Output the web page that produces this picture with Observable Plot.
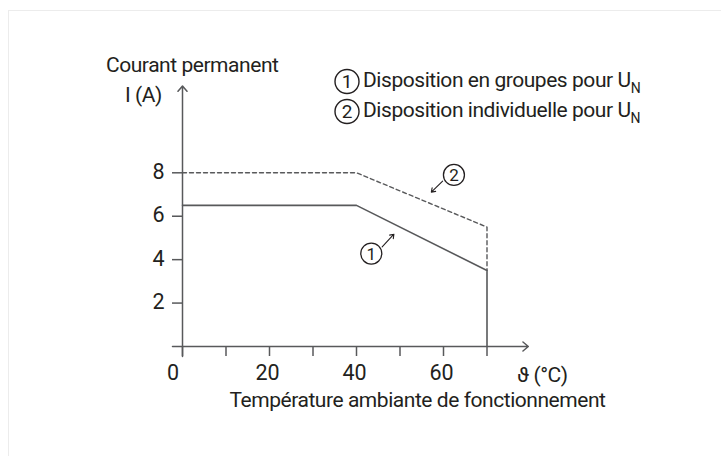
<!DOCTYPE html>
<html>
<head>
<meta charset="utf-8">
<script src="https://cdn.jsdelivr.net/npm/d3@7"></script>
<script src="https://cdn.jsdelivr.net/npm/@observablehq/plot@0.6"></script>
<style>
  html, body { margin: 0; padding: 0; background: #fff; }
  #wrap { position: relative; width: 721px; height: 456px; overflow: hidden; }
  #frame { position: absolute; left: 8px; top: 10px; right: -20px; bottom: -20px;
           border-top: 1px solid #ececec; border-left: 1px solid #ececec; }
  svg { font-family: "Roboto", sans-serif; }
  svg text.lbl { letter-spacing: -0.45px; }
</style>
</head>
<body>
<div id="wrap"><div id="frame"></div></div>
<script>
// ---- data ----
const xTicks = [0, 10, 20, 30, 40, 50, 60, 70];
const xLabels = [20, 40, 60];
const yTicks = [2, 4, 6, 8];
const curveGroup = [[0, 6.5], [40, 6.5], [70, 3.5], [70, 0]];        // ① groupes
const curveSingle = [[0, 8], [40, 8], [70, 5.5], [70, 3.5]];         // ② individuelle
const axisArrows = [{x1: -2.3, y1: 0, x2: 79.5, y2: 0}, {x1: 0, y1: -0.46, x2: 0, y2: 12}];
const calloutArrows = [{x1: 59.8, y1: 7.62, x2: 57.2, y2: 7.11}, {x1: 45.9, y1: 4.59, x2: 48.6, y2: 5.17}];
const callouts = [{x: 62.4, y: 7.9, t: "2"}, {x: 43.4, y: 4.28, t: "1"}];

const ink = "#231f20";
const line = "#58595b";
const fs = 21;

const chart = Plot.plot({
  width: 721, height: 456,
  marginLeft: 182, marginRight: 234.5, marginTop: 172.3, marginBottom: 110,
  x: {domain: [0, 70]},
  y: {domain: [0, 8]},
  style: {background: "transparent", color: ink, fontSize: fs + "px"},
  marks: [
    Plot.arrow(axisArrows, {x1: "x1", y1: "y1", x2: "x2", y2: "y2", stroke: line, strokeWidth: 1.5, headLength: 7, headAngle: 80}),
    Plot.axisX({ticks: xTicks, tickSize: 10, tickFormat: () => "", stroke: line, strokeWidth: 1.5}),
    Plot.axisY({ticks: yTicks, tickSize: 10, tickFormat: () => "", stroke: line, strokeWidth: 1.5}),
    Plot.text([0], {x: d => d, y: 0, text: d => String(d), dy: 27, dx: -9.5, fill: ink, fontSize: 21.5}),
    Plot.text(xLabels, {x: d => d, y: 0, text: d => String(d), dy: 27, dx: -2, fill: ink, fontSize: 21.5}),
    Plot.text(yTicks, {x: 0, y: d => d, text: d => String(d), dx: -24, dy: -1, fill: ink, fontSize: 21.5}),
    Plot.line(curveSingle, {x: d => d[0], y: d => d[1], stroke: line, strokeWidth: 1.4, strokeDasharray: "4,3"}),
    Plot.line(curveGroup, {x: d => d[0], y: d => d[1], stroke: line, strokeWidth: 1.6}),
    Plot.arrow(calloutArrows, {x1: "x1", y1: "y1", x2: "x2", y2: "y2", stroke: ink, strokeWidth: 1.1, headLength: 6, headAngle: 70}),
    Plot.dot(callouts, {x: "x", y: "y", r: 10.5, stroke: ink, strokeWidth: 1.3, fill: "white"}),
    Plot.text(callouts, {x: "x", y: "y", text: "t", fill: ink, fontSize: 17, dy: 0.5})
  ]
});

const wrap = document.getElementById("wrap");
chart.style.position = "absolute";
chart.style.left = "0px";
chart.style.top = "0px";
wrap.appendChild(chart);

const svg = d3.select(chart);
const g = svg.append("g").attr("fill", ink).attr("font-size", fs).attr("text-anchor", "start");
function label(x, y, str, anchor) {
  return g.append("text").attr("class", "lbl").attr("x", x).attr("y", y).attr("text-anchor", anchor || "start").text(str);
}
label(106, 72, "Courant permanent");
label(125, 102, "I (A)");
label(517, 382, "ϑ (°C)");
label(417.5, 407, "Température ambiante de fonctionnement", "middle");

// legend
const legend = [
  {n: "1", t: "Disposition en groupes pour U", cy: 81.5},
  {n: "2", t: "Disposition individuelle pour U", cy: 111.5}
];
legend.forEach(d => {
  g.append("circle").attr("cx", 347).attr("cy", d.cy).attr("r", 12).attr("fill", "none").attr("stroke", ink).attr("stroke-width", 1.4);
  g.append("text").attr("x", 347).attr("y", d.cy + 6.5).attr("text-anchor", "middle").attr("font-size", 19).text(d.n);
  const t = g.append("text").attr("class", "lbl").attr("x", 363).attr("y", d.cy + 5.5).attr("text-anchor", "start");
  t.append("tspan").text(d.t);
  t.append("tspan").attr("dy", 6).attr("font-size", 14).text("N");
});
</script>
</body>
</html>
